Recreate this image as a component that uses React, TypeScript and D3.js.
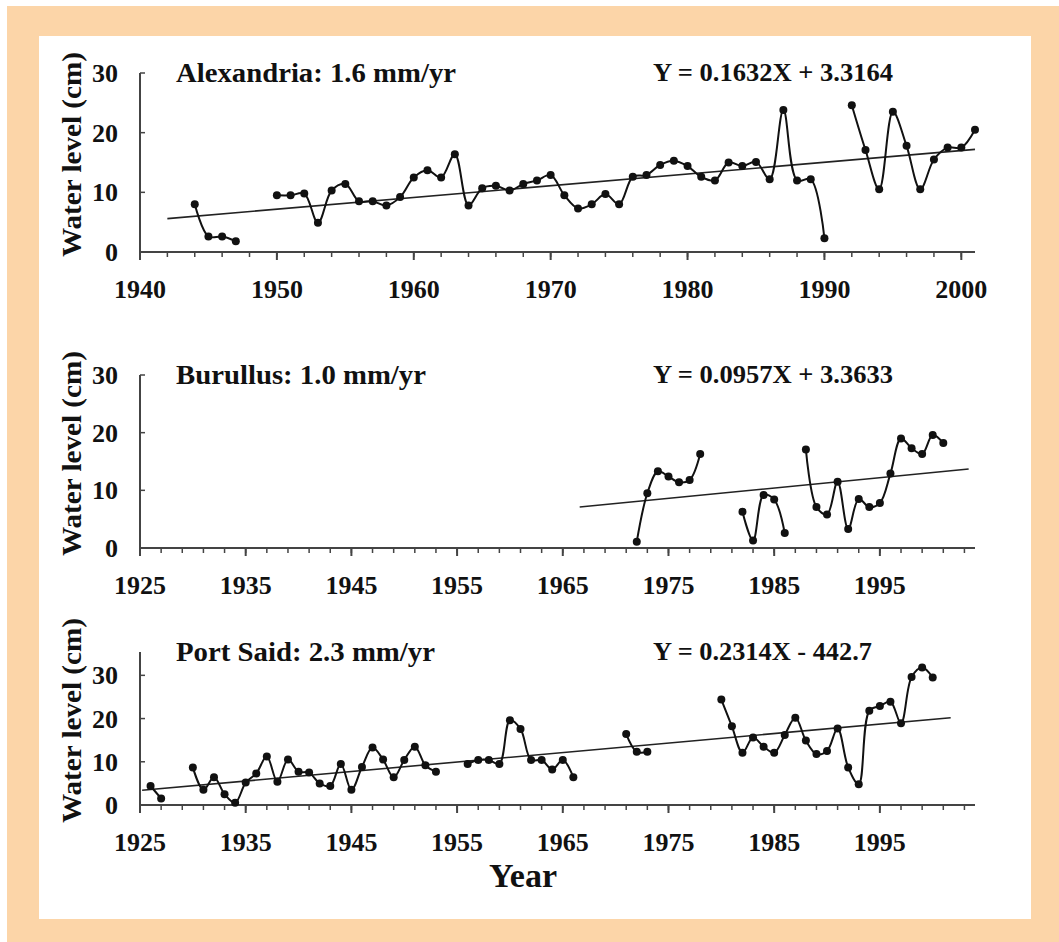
import * as d3 from "d3";

// Alexandria annual mean water level (cm), null = no record
const alexYears = d3.range(1944, 2002);
const alexLevels = [
  8.0, 2.6, 2.6, 1.8, null, null, 9.5, 9.5, 9.8, 4.9, 10.3, 11.4, 8.5, 8.5, 7.8,
  9.2, 12.5, 13.7, 12.5, 16.4, 7.8, 10.7, 11.1, 10.3, 11.4, 12.0, 12.9, 9.5, 7.3,
  8.0, 9.7, 8.0, 12.6, 12.9, 14.6, 15.3, 14.4, 12.6, 12.0, 15.0, 14.4, 15.1, 12.2,
  23.8, 12.0, 12.2, 2.3, null, 24.6, 17.1, 10.5, 23.5, 17.8, 10.5, 15.5, 17.5,
  17.5, 20.5,
];
const alexTrend = [
  [1942, 5.6],
  [2001, 17.2],
];

const burYears = d3.range(1972, 2002);
const burLevels = [
  1.1, 9.5, 13.3, 12.4, 11.4, 11.8, 16.3, null, null, null, 6.3, 1.3, 9.2, 8.4,
  2.6, null, 17.1, 7.1, 5.8, 11.5, 3.3, 8.5, 7.1, 7.8, 12.9, 19.0, 17.3, 16.3,
  19.6, 18.2,
];
const burTrend = [
  [1966.6, 7.1],
  [2003.4, 13.7],
];

const psYears = d3.range(1926, 2001);
const psLevels = [
  4.4, 1.5, null, null, 8.7, 3.5, 6.4, 2.5, 0.5, 5.2, 7.3, 11.2, 5.4, 10.5, 7.7,
  7.5, 5.0, 4.4, 9.5, 3.5, 8.8, 13.3, 10.5, 6.4, 10.4, 13.5, 9.2, 7.7, null, null,
  9.5, 10.4, 10.4, 9.5, 19.6, 17.6, 10.4, 10.4, 8.2, 10.4, 6.4, null, null, null,
  null, 16.4, 12.3, 12.3, null, null, null, null, null, null, 24.4, 18.2, 12.1,
  15.6, 13.5, 12.1, 16.2, 20.2, 14.9, 11.8, 12.5, 17.7, 8.7, 4.8, 21.8, 22.9,
  23.9, 18.9, 29.6, 31.8, 29.5,
];
const psTrend = [
  [1925.2, 3.4],
  [2001.7, 20.2],
];

const yTicks = [0, 10, 20, 30];

const serif = "'Liberation Serif', 'Times New Roman', serif";

type PanelProps = {
  title: string;
  titleLen: number;
  equation: string;
  eqLen: number;
  years: number[];
  levels: (number | null)[];
  trend: number[][];
  xDomain: [number, number];
  yMax: number;
  top: number;
  bottom: number;
  firstYear: number;
  lastMinor: number;
};

function Panel(p: PanelProps) {
  const x = d3.scaleLinear().domain(p.xDomain).range([140, 975]);
  const y = d3.scaleLinear().domain([0, p.yMax]).range([p.bottom, p.top]);
  const pts = p.years.map((yr, i) => ({ yr, v: p.levels[i] }));

  const line = d3
    .line<{ yr: number; v: number | null }>()
    .defined((d) => d.v != null)
    .x((d) => x(d.yr))
    .y((d) => y(d.v as number))
    .curve(d3.curveCatmullRom.alpha(0.5));

  const trendLine = d3
    .line<number[]>()
    .x((d) => x(d[0]))
    .y((d) => y(d[1]));

  const minor = d3.range(p.firstYear, p.lastMinor + 0.01, 2);
  const major = d3.range(p.firstYear, p.xDomain[1], 10);

  return (
    <g>
      {/* axes */}
      <line x1={x(p.xDomain[0])} x2={x(p.xDomain[0])} y1={y(0)} y2={y(p.yMax)} stroke="#444" strokeWidth={2} />
      <line x1={x(p.xDomain[0])} x2={x(p.xDomain[1])} y1={y(0)} y2={y(0)} stroke="#444" strokeWidth={2} />
      {yTicks.map((t) => (
        <g key={"y" + t}>
          <line x1={x(p.xDomain[0])} x2={x(p.xDomain[0]) + 5} y1={y(t)} y2={y(t)} stroke="#444" strokeWidth={1.5} />
          <text x={118} y={y(t)} dy="0.35em" textAnchor="end" fontFamily={serif} fontWeight="bold" fontSize={26} fill="#111">
            {t}
          </text>
        </g>
      ))}
      {minor.map((t) => (
        <line key={"m" + t} x1={x(t)} x2={x(t)} y1={y(0)} y2={y(0) + 5} stroke="#444" strokeWidth={1.5} />
      ))}
      {major.map((t) => (
        <g key={"M" + t}>
          <line x1={x(t)} x2={x(t)} y1={y(0)} y2={y(0) + 8} stroke="#444" strokeWidth={2} />
          <text x={x(t)} y={y(0) + 46} textAnchor="middle" fontFamily={serif} fontWeight="bold" fontSize={26} fill="#111">
            {t}
          </text>
        </g>
      ))}
      <text
        transform={`translate(81,${(y(0) + y(p.yMax)) / 2 - 8}) rotate(-90)`}
        textAnchor="middle"
        textLength={205}
        lengthAdjust="spacingAndGlyphs"
        fontFamily={serif}
        fontWeight="bold"
        fontSize={28}
        fill="#111"
      >
        Water level (cm)
      </text>

      {/* trend */}
      <path d={trendLine(p.trend) || ""} fill="none" stroke="#222" strokeWidth={1.6} />

      {/* series */}
      <path d={line(pts) || ""} fill="none" stroke="#111" strokeWidth={2} />
      {pts
        .filter((d) => d.v != null)
        .map((d) => (
          <circle key={d.yr} cx={x(d.yr)} cy={y(d.v as number)} r={4} fill="#111" />
        ))}

      <text
        x={176}
        y={p.top + 9}
        textLength={p.titleLen}
        lengthAdjust="spacingAndGlyphs"
        fontFamily={serif}
        fontWeight="bold"
        fontSize={28}
        fill="#111"
      >
        {p.title}
      </text>
      <text
        x={653}
        y={p.top + 8}
        textLength={p.eqLen}
        lengthAdjust="spacingAndGlyphs"
        fontFamily={serif}
        fontWeight="bold"
        fontSize={25}
        fill="#111"
      >
        {p.equation}
      </text>
    </g>
  );
}

export default function App() {
  return (
    <svg width={1059} height={942} style={{ position: "absolute", left: 0, top: 0 }}>
      <rect x={0} y={0} width={1059} height={942} fill="#fff" />
      <rect x={7} y={6} width={1052} height={936} fill="#fcd5a8" />
      <rect x={39} y={36} width={992} height={883} fill="#fff" />

      <Panel
        title="Alexandria: 1.6 mm/yr"
        titleLen={280}
        equation="Y = 0.1632X + 3.3164"
        eqLen={240}
        years={alexYears}
        levels={alexLevels}
        trend={alexTrend}
        xDomain={[1940, 2001]}
        yMax={30}
        top={73}
        bottom={252}
        firstYear={1940}
        lastMinor={2000}
      />
      <Panel
        title="Burullus: 1.0 mm/yr"
        titleLen={250}
        equation="Y = 0.0957X + 3.3633"
        eqLen={240}
        years={burYears}
        levels={burLevels}
        trend={burTrend}
        xDomain={[1925, 2004]}
        yMax={30}
        top={375}
        bottom={548}
        firstYear={1925}
        lastMinor={2003}
      />
      <Panel
        title="Port Said: 2.3 mm/yr"
        titleLen={259}
        equation="Y = 0.2314X - 442.7"
        eqLen={219}
        years={psYears}
        levels={psLevels}
        trend={psTrend}
        xDomain={[1925, 2004]}
        yMax={35.4}
        top={652}
        bottom={805}
        firstYear={1925}
        lastMinor={2003}
      />
      <text x={523} y={887} textAnchor="middle" fontFamily={serif} fontWeight="bold" fontSize={34} fill="#111">
        Year
      </text>
    </svg>
  );
}
